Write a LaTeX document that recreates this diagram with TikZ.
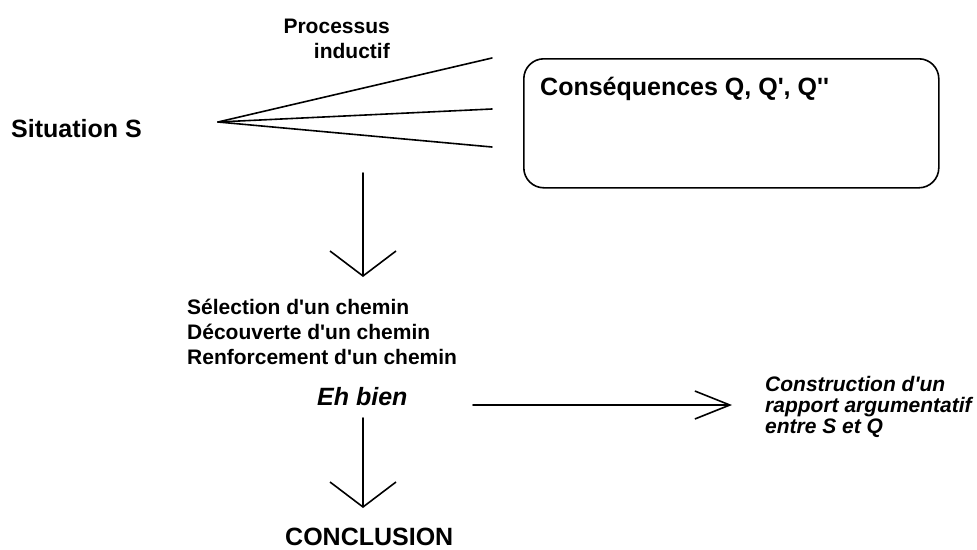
\documentclass[tikz,border=0pt]{standalone}
\usepackage{fontspec}
\newfontfamily\lib{Liberation Sans}
\usetikzlibrary{arrows.meta}
\tikzset{
  txt/.style={inner sep=0pt, anchor=base west, font=\lib\bfseries\fontsize{#1}{#1}\selectfont},
  txt/.default=25,
  itx/.style={inner sep=0pt, anchor=base west, font=\lib\bfseries\itshape\fontsize{#1}{#1}\selectfont},
  itx/.default=25,
  ln/.style={line width=1.6pt, line cap=round},
  vbarb/.style={ln, -{Straight Barb[length=25pt,width=66pt,line width=1.6pt]}},
  hbarb/.style={ln, -{Straight Barb[length=35pt,width=28pt,line width=1.6pt]}},
}
\begin{document}
\begin{tikzpicture}[x=1pt,y=-1pt]
\useasboundingbox (0,0) rectangle (977,549);
% labels
\node[txt] (sit) at (11,137) {Situation S};
\node[txt=21, anchor=base east] (proc1) at (390,33) {Processus};
\node[txt=21, anchor=base east] (proc2) at (390,58) {inductif};
% box
\node[draw, line width=1.6pt, rounded corners=20pt, minimum width=415pt, minimum height=129pt, inner sep=0pt, anchor=north west] (box) at (523,58) {};
\node[txt] (cons) at (540,95) {Conséquences Q, Q', Q''};
% fan
\coordinate (apex) at (218,122);
\coordinate (f1) at (492,58);
\coordinate (f2) at (492,109);
\coordinate (f3) at (492,147);
\draw[ln] (apex) -- (f1);
\draw[ln] (apex) -- (f2);
\draw[ln] (apex) -- (f3);
% first down arrow
\coordinate (a1s) at (363,173);
\coordinate (a1e) at (363,277);
\draw[vbarb] (a1s) -- (a1e);
% middle block
\node[txt=21] (l1) at (187,314) {Sélection d'un chemin};
\node[txt=21] (l2) at (187,339) {Découverte d'un chemin};
\node[txt=21] (l3) at (187,364) {Renforcement d'un chemin};
\node[itx] (eh) at (317,405) {Eh bien};
% horizontal arrow
\coordinate (hs) at (473,405);
\coordinate (he) at (732,405);
\draw[hbarb] (hs) -- (he);
\node[itx=21] (r1) at (765,391) {Construction d'un};
\node[itx=21] (r2) at (765,412) {rapport argumentatif};
\node[itx=21] (r3) at (765,433) {entre S et Q};
% second down arrow
\coordinate (a2s) at (363,418);
\coordinate (a2e) at (363,508);
\draw[vbarb] (a2s) -- (a2e);
\node[txt] (concl) at (285,545) {CONCLUSION};
\end{tikzpicture}
\end{document}
